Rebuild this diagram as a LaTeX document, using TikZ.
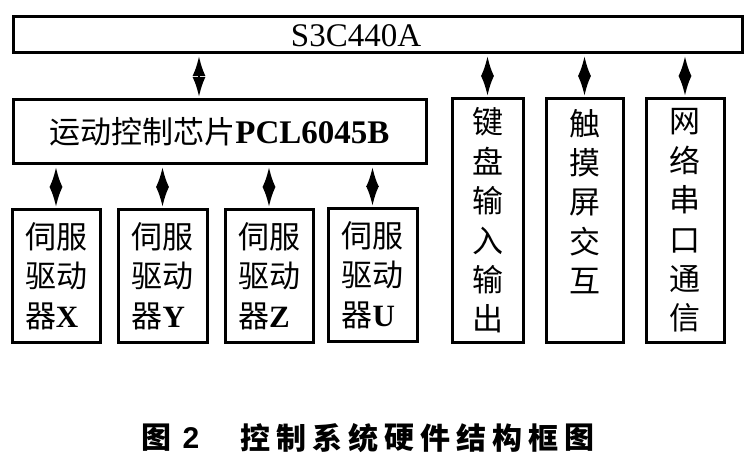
\documentclass[tikz,border=0pt]{standalone}
\usepackage{fontspec}
\setmainfont{Liberation Serif}
\newfontfamily\cjk{Noto Sans CJK SC}
\usetikzlibrary{arrows.meta,calc}
\tikzset{
  box/.style={draw=black, line width=3pt, rectangle, inner sep=0pt, align=center},
  big/.style={font=\fontsize{31}{39.4}\selectfont},
  biarrow/.style={line width=2.4pt, {Latex[length=20pt,width=13pt]}-{Latex[length=20pt,width=13pt]}, shorten <=1.5pt, shorten >=1.5pt},
  captxt/.style={font=\fontsize{30}{30}\selectfont\cjk\bfseries, inner sep=0pt, anchor=center}
}
\begin{document}
\begin{tikzpicture}[x=1pt,y=-1pt]
\useasboundingbox (0,0) rectangle (753,468);
% top CPU bar
\node[box, minimum width=729pt, minimum height=36pt] (cpu) at (377.5,35) {};
\node[font=\fontsize{33}{33}\selectfont, inner sep=0pt] (cpulabel) at (356,36) {S3C440A};
% motion control chip
\node[box, big, minimum width=413pt, minimum height=64pt] (motion) at (219.5,132)
  {{\cjk 运动控制芯片}{\fontsize{33}{33}\selectfont\textbf{PCL6045B}}};
% servo drivers
\node[box, big, minimum width=88pt, minimum height=132pt, align=left] (sx) at (56,276)
  {\cjk 伺服\\\cjk 驱动\\{\cjk 器}\textbf{X}};
\node[box, big, minimum width=89pt, minimum height=132pt, align=left] (sy) at (162.5,276)
  {\cjk 伺服\\\cjk 驱动\\{\cjk 器}\textbf{Y}};
\node[box, big, minimum width=88pt, minimum height=132pt, align=left] (sz) at (269,276)
  {\cjk 伺服\\\cjk 驱动\\{\cjk 器}\textbf{Z}};
\node[box, big, minimum width=89pt, minimum height=132pt, align=left] (su) at (372.5,275)
  {\cjk 伺服\\\cjk 驱动\\{\cjk 器}\textbf{U}};
% right column boxes
\node[box, big, minimum width=71pt, minimum height=243pt] (kb) at (487.5,220.5)
  {\cjk 键\\\cjk 盘\\\cjk 输\\\cjk 入\\\cjk 输\\\cjk 出};
\node[box, big, minimum width=77pt, minimum height=243pt] (ts) at (584.5,220.5)
  {\cjk 触\\\cjk 摸\\\cjk 屏\\\cjk 交\\\cjk 互\\\mbox{}};
\node[box, big, minimum width=78pt, minimum height=243pt] (net) at (685,220.5)
  {\cjk 网\\\cjk 络\\\cjk 串\\\cjk 口\\\cjk 通\\\cjk 信};
% arrows
\draw[biarrow] (cpu.south -| 199,0) -- (motion.north -| 199,0);
\draw[biarrow] (motion.south -| sx.north) -- (sx.north);
\draw[biarrow] (motion.south -| sy.north) -- (sy.north);
\draw[biarrow] (motion.south -| sz.north) -- (sz.north);
\draw[biarrow] (motion.south -| su.north) -- (su.north);
\draw[biarrow] (cpu.south -| kb.north) -- (kb.north);
\draw[biarrow] (cpu.south -| ts.north) -- (ts.north);
\draw[biarrow] (cpu.south -| net.north) -- (net.north);
% caption
\node[captxt] (fig) at (156.5,438) {图};
\node[captxt, font=\fontsize{30}{30}\selectfont\fontspec{Liberation Sans}\bfseries] (fignum) at (191,438) {2};
\foreach \c [count=\i from 0] in {控,制,系,统,硬,件,结,构,框,图} {
  \node[captxt] (c\i) at (255.5+36*\i,438) {\c};
}
\end{tikzpicture}
\end{document}
